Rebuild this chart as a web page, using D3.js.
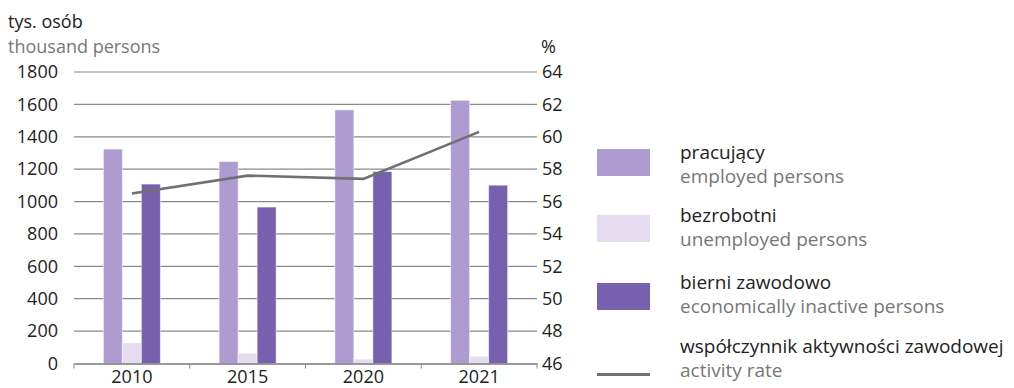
<!DOCTYPE html>
<html><head><meta charset="utf-8">
<script src="https://cdn.jsdelivr.net/npm/d3@7/dist/d3.min.js"></script>
<style>
body{margin:0;background:#fff;}
text{font-family:"Open Sans",sans-serif;}
</style></head>
<body><svg id="c" width="1014" height="388"></svg>
<script>
const years = ["2010","2015","2020","2021"];
const employed = [1324, 1247, 1566, 1625];
const unemployed = [127, 64, 27, 45];
const inactive = [1108, 966, 1185, 1101];
const activityRate = [56.5, 57.6, 57.4, 60.3];
const leftTicks = [0,200,400,600,800,1000,1200,1400,1600,1800];
const rightTicks = [46,48,50,52,54,56,58,60,62,64];
const seriesKeys = ["employed","unemployed","inactive"];
const seriesPL = ["pracujący","bezrobotni","bierni zawodowo","współczynnik aktywności zawodowej"];
const seriesEN = ["employed persons","unemployed persons","economically inactive persons","activity rate"];
const colors = {employed:"#ae9bd0", unemployed:"#e5dcef", inactive:"#7760ad"};
const lineColor = "#707070";

const svg = d3.select("#c");
const L = 74, R = 537, T = 72, B = 363.5;
const fs = 18, lfs = 19;

const x0 = d3.scaleBand().domain(years).range([L,R]);
const bw = x0.bandwidth();
const barW = 19;
const x1 = d3.scaleBand().domain(seriesKeys).range([(bw-3*barW)/2, (bw+3*barW)/2]);
const yL = d3.scaleLinear().domain([0,1800]).range([B,T]);
const yR = d3.scaleLinear().domain([46,64]).range([B,T]);

// gridlines
svg.append("g").selectAll("line").data(leftTicks.slice(1)).join("line")
  .attr("x1",L).attr("x2",R).attr("y1",d=>yL(d)).attr("y2",d=>yL(d))
  .attr("stroke","#8a8a8a").attr("stroke-width",1.2);

// left axis labels
const gl = svg.append("g").attr("transform",`translate(${L},0)`)
  .call(d3.axisLeft(yL).tickValues(leftTicks).tickFormat(d3.format("d")).tickSize(0).tickPadding(16));
gl.select(".domain").remove();
gl.selectAll("text").attr("font-size",fs).attr("fill","#222").attr("font-family","Open Sans");

// right axis
const gr = svg.append("g").attr("transform",`translate(${R},0)`)
  .call(d3.axisRight(yR).tickValues(rightTicks).tickSize(0).tickPadding(5));
gr.select(".domain").remove();
gr.selectAll("text").attr("font-size",fs).attr("fill","#222").attr("font-family","Open Sans");

// bars
const data = years.map((y,i)=>({year:y, employed:employed[i], unemployed:unemployed[i], inactive:inactive[i]}));
svg.append("g").selectAll("g").data(data).join("g")
  .attr("transform",d=>`translate(${x0(d.year)},0)`)
  .selectAll("rect").data(d=>seriesKeys.map(k=>({k, v:d[k]}))).join("rect")
  .attr("x",d=>x1(d.k)).attr("width",x1.bandwidth())
  .attr("y",d=>yL(d.v)).attr("height",d=>B-yL(d.v))
  .attr("fill",d=>colors[d.k]).attr("stroke","rgba(255,255,255,0.5)").attr("stroke-width",1);

// bottom axis
const gx = svg.append("g").attr("transform",`translate(0,${B})`)
  .call(d3.axisBottom(x0).tickSize(0).tickPadding(7));
gx.select(".domain").attr("stroke","#777").attr("stroke-width",1.3);
gx.selectAll("text").attr("font-size",fs).attr("fill","#222").attr("font-family","Open Sans");
svg.append("g").selectAll("line").data(years.concat(["end"])).join("line")
  .attr("x1",(d,i)=> i<years.length ? x0(d) : R).attr("x2",(d,i)=> i<years.length ? x0(d) : R)
  .attr("y1",B).attr("y2",B+5).attr("stroke","#888").attr("stroke-width",1);

// line
const line = d3.line().x((d,i)=>x0(years[i])+bw/2).y(d=>yR(d));
svg.append("path").datum(activityRate).attr("d",line)
  .attr("fill","none").attr("stroke",lineColor).attr("stroke-width",2.6);

// titles
svg.append("text").attr("x",8).attr("y",28).attr("font-size",fs).attr("fill","#222").text("tys. osób");
svg.append("text").attr("x",8).attr("y",53).attr("font-size",fs).attr("fill","#777").text("thousand persons");
svg.append("text").attr("x",541).attr("y",53).attr("font-size",fs).attr("fill","#222").text("%");

// legend
const legY = [149, 215, 283, 349];
const lg = svg.append("g");
seriesKeys.forEach((k,i)=>{
  lg.append("rect").attr("x",597).attr("y",legY[i]).attr("width",53).attr("height",27).attr("fill",colors[k]);
});
lg.append("line").attr("x1",597).attr("x2",650).attr("y1",374.5).attr("y2",374.5).attr("stroke",lineColor).attr("stroke-width",3);
const textY = [[159,183],[222,246],[289,313],[352.5,377]];
seriesPL.forEach((t,i)=>{
  lg.append("text").attr("x",680).attr("y",textY[i][0]).attr("font-size",lfs).attr("fill","#222").text(t);
  lg.append("text").attr("x",680).attr("y",textY[i][1]).attr("font-size",lfs).attr("fill","#777").text(seriesEN[i]);
});
</script></body></html>
